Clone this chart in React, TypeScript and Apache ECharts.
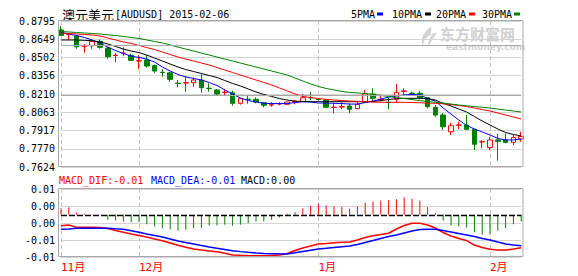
import React, { useEffect, useRef } from 'react';
import * as echarts from 'echarts';

const dates = [
  '2014-11-17','2014-11-18','2014-11-19','2014-11-20','2014-11-21','2014-11-24','2014-11-25','2014-11-26','2014-11-27','2014-11-28',
  '2014-12-01','2014-12-02','2014-12-03','2014-12-04','2014-12-05','2014-12-08','2014-12-09','2014-12-10','2014-12-11','2014-12-12',
  '2014-12-15','2014-12-16','2014-12-17','2014-12-18','2014-12-19','2014-12-22','2014-12-23','2014-12-24','2014-12-25','2014-12-26',
  '2014-12-29','2014-12-30','2014-12-31',
  '2015-01-01','2015-01-02','2015-01-05','2015-01-06','2015-01-07','2015-01-08','2015-01-09','2015-01-12','2015-01-13','2015-01-14',
  '2015-01-15','2015-01-16','2015-01-19','2015-01-20','2015-01-21','2015-01-22','2015-01-23','2015-01-26','2015-01-27','2015-01-28',
  '2015-01-29','2015-01-30',
  '2015-02-02','2015-02-03','2015-02-04','2015-02-05','2015-02-06',
];

const open = [
  0.8723,0.8688,0.8675,0.8590,0.8597,0.8632,0.8578,0.8518,0.8536,0.8520,
  0.8474,0.8482,0.8437,0.8384,0.8380,0.8296,0.8298,0.8300,0.8322,0.8256,
  0.8242,0.8222,0.8220,0.8135,0.8168,0.8167,0.8140,0.8121,0.8129,0.8127,
  0.8145,0.8148,0.8182,0.8168,0.8161,0.8101,0.8105,0.8113,0.8092,0.8143,
  0.8210,0.8165,0.8144,0.8167,0.8231,0.8216,0.8215,0.8180,0.8103,0.8041,
  0.7907,0.7959,0.7961,0.7926,0.7825,0.7780,0.7841,0.7841,0.7822,0.7849,
];
const close = [
  0.8680,0.8691,0.8589,0.8593,0.8632,0.8584,0.8509,0.8521,0.8538,0.8480,
  0.8477,0.8434,0.8394,0.8382,0.8327,0.8294,0.8300,0.8322,0.8260,0.8254,
  0.8210,0.8224,0.8135,0.8175,0.8165,0.8145,0.8119,0.8124,0.8132,0.8145,
  0.8148,0.8180,0.8179,0.8165,0.8103,0.8104,0.8108,0.8087,0.8127,0.8210,
  0.8175,0.8168,0.8141,0.8223,0.8234,0.8214,0.8180,0.8108,0.8041,0.7947,
  0.7955,0.7961,0.7926,0.7806,0.7827,0.7841,0.7830,0.7821,0.7861,0.7869,
];
const low = [
  0.8675,0.8640,0.8573,0.8541,0.8573,0.8573,0.8493,0.8464,0.8512,0.8474,
  0.8408,0.8420,0.8376,0.8348,0.8308,0.8263,0.8228,0.8268,0.8220,0.8228,
  0.8202,0.8202,0.8116,0.8124,0.8132,0.8135,0.8103,0.8108,0.8119,0.8121,
  0.8127,0.8147,0.8161,0.8157,0.8102,0.8055,0.8087,0.8055,0.8087,0.8137,
  0.8143,0.8148,0.8089,0.8140,0.8196,0.8194,0.8167,0.8095,0.8027,0.7921,
  0.7881,0.7926,0.7922,0.7760,0.7774,0.7760,0.7675,0.7814,0.7801,0.7827,
];
const high = [
  0.8755,0.8693,0.8683,0.8611,0.8635,0.8647,0.8586,0.8538,0.8584,0.8534,
  0.8522,0.8522,0.8446,0.8408,0.8388,0.8322,0.8354,0.8344,0.8368,0.8295,
  0.8250,0.8247,0.8236,0.8177,0.8196,0.8183,0.8145,0.8143,0.8145,0.8149,
  0.8161,0.8210,0.8226,0.8177,0.8169,0.8135,0.8143,0.8135,0.8145,0.8242,
  0.8255,0.8207,0.8183,0.8290,0.8255,0.8228,0.8236,0.8185,0.8121,0.8057,
  0.7979,0.7987,0.8041,0.7929,0.7841,0.7867,0.7889,0.7894,0.7881,0.7907,
];

const ma5 = [
  0.8703,0.8691,0.8679,0.8663,0.8643,0.8619,0.8586,0.8558,0.8534,0.8514,
  0.8502,0.8490,0.8466,0.8426,0.8394,0.8366,0.8346,0.8334,0.8322,0.8302,
  0.8278,0.8242,0.8210,0.8177,0.8157,0.8145,0.8135,0.8133,0.8133,0.8133,
  0.8141,0.8148,0.8145,0.8137,0.8137,0.8135,0.8133,0.8129,0.8129,0.8141,
  0.8153,0.8169,0.8185,0.8193,0.8202,0.8206,0.8202,0.8173,0.8153,0.8097,
  0.8049,0.8001,0.7957,0.7929,0.7905,0.7881,0.7853,0.7841,0.7841,0.7849,
];
const ma10 = [
  0.8643,0.8643,0.8643,0.8640,0.8637,0.8627,0.8611,0.8591,0.8570,0.8554,
  0.8542,0.8522,0.8498,0.8474,0.8450,0.8426,0.8406,0.8390,0.8374,0.8358,
  0.8342,0.8318,0.8294,0.8274,0.8250,0.8226,0.8206,0.8190,0.8173,0.8161,
  0.8153,0.8149,0.8148,0.8148,0.8148,0.8148,0.8148,0.8148,0.8148,0.8148,
  0.8149,0.8157,0.8165,0.8173,0.8175,0.8175,0.8175,0.8173,0.8161,0.8135,
  0.8113,0.8089,0.8065,0.8029,0.7993,0.7961,0.7929,0.7901,0.7885,0.7873,
];
const ma20 = [
  0.8699,0.8695,0.8691,0.8687,0.8683,0.8675,0.8659,0.8643,0.8627,0.8615,
  0.8599,0.8582,0.8566,0.8546,0.8526,0.8506,0.8490,0.8474,0.8458,0.8442,
  0.8422,0.8402,0.8382,0.8362,0.8342,0.8322,0.8302,0.8282,0.8258,0.8234,
  0.8210,0.8190,0.8181,0.8173,0.8167,0.8161,0.8157,0.8153,0.8151,0.8148,
  0.8145,0.8143,0.8143,0.8143,0.8143,0.8141,0.8139,0.8137,0.8135,0.8131,
  0.8125,0.8117,0.8109,0.8097,0.8085,0.8073,0.8057,0.8041,0.8025,0.8009,
];
const ma30 = [
  0.8711,0.8707,0.8703,0.8699,0.8695,0.8691,0.8684,0.8679,0.8671,0.8663,
  0.8655,0.8643,0.8631,0.8619,0.8603,0.8586,0.8570,0.8554,0.8538,0.8522,
  0.8506,0.8490,0.8474,0.8458,0.8442,0.8426,0.8410,0.8394,0.8378,0.8362,
  0.8338,0.8314,0.8290,0.8270,0.8254,0.8242,0.8230,0.8222,0.8218,0.8214,
  0.8206,0.8198,0.8190,0.8181,0.8173,0.8165,0.8157,0.8149,0.8143,0.8137,
  0.8129,0.8121,0.8115,0.8109,0.8103,0.8097,0.8089,0.8081,0.8073,0.8065,
];

const dif = [
  -0.00320,-0.00300,-0.00368,-0.00368,-0.00368,-0.00373,-0.00403,-0.00462,-0.00515,-0.00564,
  -0.00609,-0.00653,-0.00711,-0.00761,-0.00829,-0.00897,-0.00956,-0.01005,-0.01035,-0.01064,
  -0.01085,-0.01132,-0.01182,-0.01191,-0.01197,-0.01202,-0.01202,-0.01197,-0.01182,-0.01138,
  -0.01050,-0.00976,-0.00917,-0.00858,-0.00844,-0.00820,-0.00809,-0.00800,-0.00741,-0.00667,
  -0.00614,-0.00579,-0.00541,-0.00417,-0.00315,-0.00250,-0.00250,-0.00300,-0.00388,-0.00520,
  -0.00623,-0.00697,-0.00756,-0.00888,-0.00961,-0.01011,-0.01035,-0.01035,-0.01005,-0.00967,
];
const dea = [
  -0.00426,-0.00417,-0.00397,-0.00397,-0.00397,-0.00397,-0.00397,-0.00412,-0.00426,-0.00470,
  -0.00515,-0.00564,-0.00609,-0.00653,-0.00711,-0.00770,-0.00814,-0.00858,-0.00903,-0.00947,
  -0.00985,-0.01020,-0.01055,-0.01082,-0.01103,-0.01123,-0.01135,-0.01141,-0.01147,-0.01152,
  -0.01117,-0.01079,-0.01041,-0.01005,-0.00985,-0.00961,-0.00938,-0.00917,-0.00873,-0.00814,
  -0.00756,-0.00697,-0.00638,-0.00594,-0.00535,-0.00476,-0.00432,-0.00426,-0.00426,-0.00462,
  -0.00506,-0.00550,-0.00594,-0.00638,-0.00697,-0.00741,-0.00800,-0.00858,-0.00888,-0.00908,
];
const macd = [
  0.00196,0.00226,0.00069,0.00030,0.00020,0.00010,-0.00147,-0.00167,-0.00196,-0.00216,
  -0.00216,-0.00274,-0.00343,-0.00392,-0.00421,-0.00470,-0.00441,-0.00392,-0.00392,-0.00323,
  -0.00314,-0.00294,-0.00323,-0.00294,-0.00245,-0.00196,-0.00196,-0.00147,-0.00078,0.00030,
  0.00078,0.00196,0.00265,0.00323,0.00265,0.00245,0.00235,0.00176,0.00245,0.00353,
  0.00392,0.00412,0.00431,0.00461,0.00510,0.00470,0.00412,0.00226,0.00050,-0.00167,
  -0.00314,-0.00343,-0.00372,-0.00510,-0.00588,-0.00568,-0.00470,-0.00392,-0.00274,-0.00196,
];

const priceMin = 0.7624;
const priceMax = 0.87952;
const priceStep = 0.01464;
const strongPriceLines = [0.86488, 0.82096];
const macdMin = -0.0124;
const macdMax = 0.0076;
const macdStep = 0.005;

const maNames = ['5PMA', '10PMA', '20PMA', '30PMA'];
const maColors = ['#0000ff', '#000000', '#ff0000', '#008000'];
const maData = [ma5, ma10, ma20, ma30];

const monthStarts = dates
  .map((d, i) => (i === 0 || d.slice(5, 7) !== dates[i - 1].slice(5, 7) ? i : -1))
  .filter((i) => i >= 0);

const MONO = '"DejaVu Sans Mono", monospace';
const CJK = '"DejaVu Sans Mono", "Noto Sans CJK SC", sans-serif';
const RED = '#ff0000';
const GREEN = '#008000';

let logoRegistered = false;
function registerLogo() {
  if (logoRegistered) return;
  logoRegistered = true;
  echarts.graphic.registerShape(
    'emLogo',
    echarts.graphic.extendPath(
      'M13 0 C5 4 0 12 3 22 C4 15 8 10 15 8 C11 12 9 16 10 22 C13 15 17 11 20 6 C17 6 14 7 12 9 C13 6 14 3 13 0 Z',
      {}
    )
  );
}

export default function App() {
  const ref = useRef<HTMLDivElement>(null);
  useEffect(() => {
    registerLogo();
    const chart = echarts.init(ref.current!, null, { renderer: 'svg' });
    const splitX = {
      show: true,
      interval: (i: number) => monthStarts.includes(i),
      lineStyle: { color: '#c4c4c4', type: [4, 3], width: 1 },
    };
    const legendX = [351, 392, 436, 482];
    const legendRectX = [377, 425, 469, 514];
    const graphics: any[] = [
      { type: 'rect', silent: true, z: 10, shape: { x: 58.5, y: 20.5, width: 464.5, height: 146 }, style: { fill: 'none', stroke: '#a8a8a8', lineWidth: 1 } },
      { type: 'rect', silent: true, z: 10, shape: { x: 58.5, y: 188.5, width: 464.5, height: 68 }, style: { fill: 'none', stroke: '#a8a8a8', lineWidth: 1 } },
      { type: 'text', x: 62, y: 14, style: { text: '澳元美元', fontSize: 13, fontFamily: '"Noto Sans CJK SC"', fill: '#000', verticalAlign: 'middle', align: 'left' } },
      { type: 'text', x: 115, y: 14, style: { text: '[AUDUSD] 2015-02-06', fontSize: 10, fontFamily: MONO, fill: '#000', verticalAlign: 'middle', align: 'left' } },
      { type: 'text', x: 59, y: 180, style: { text: 'MACD_DIF:-0.01', fontSize: 10, fontFamily: MONO, fill: RED, verticalAlign: 'middle', align: 'left' } },
      { type: 'text', x: 151, y: 180, style: { text: 'MACD_DEA:-0.01', fontSize: 10, fontFamily: MONO, fill: '#0000ff', verticalAlign: 'middle', align: 'left' } },
      { type: 'text', x: 241, y: 180, style: { text: 'MACD:0.00', fontSize: 10, fontFamily: MONO, fill: '#000', verticalAlign: 'middle', align: 'left' } },
      { type: 'emLogo', x: 420, y: 27, scaleX: 0.85, scaleY: 0.9, z: 1, silent: true, style: { fill: '#d4d4d4' } },
      { type: 'text', x: 440, y: 33, z: 1, silent: true, style: { text: '东方财富网', fontSize: 15, fontWeight: 'bold', fontFamily: '"Noto Sans CJK SC"', fill: '#d0d0d0', verticalAlign: 'middle', align: 'left' } },
      { type: 'text', x: 446, y: 47, z: 1, silent: true, style: { text: 'eastmoney.com', fontSize: 9, fontWeight: 'bold', fontFamily: '"DejaVu Sans"', fill: '#d0d0d0', verticalAlign: 'middle', align: 'left' } },
    ];
    maNames.forEach((n, k) => {
      graphics.push({ type: 'text', x: legendX[k], y: 14, style: { text: n, fontSize: 10, fontFamily: MONO, fill: '#000', verticalAlign: 'middle', align: 'left' } });
      graphics.push({ type: 'rect', shape: { x: legendRectX[k], y: 12.5, width: 6, height: 3 }, style: { fill: maColors[k] } });
    });

    const option: any = {
      animation: false,
      backgroundColor: '#ffffff',
      grid: [
        { left: 61, width: 460.2, top: 21, height: 146 },
        { left: 61, width: 460.2, top: 189, height: 68 },
      ],
      xAxis: [
        {
          type: 'category', gridIndex: 0, data: dates, boundaryGap: false,
          axisLine: { show: false }, axisTick: { show: false }, axisLabel: { show: false },
          splitLine: splitX,
        },
        {
          type: 'category', gridIndex: 1, data: dates, boundaryGap: false,
          axisLine: { show: false }, axisTick: { show: false },
          axisLabel: {
            show: true,
            interval: (i: number) => monthStarts.includes(i),
            formatter: (v: string) => `${Number(v.slice(5, 7))}月`,
            color: RED, fontSize: 11, fontFamily: CJK, align: 'left', margin: 5,
          },
          splitLine: splitX,
        },
      ],
      yAxis: [
        {
          type: 'value', gridIndex: 0, min: priceMin, max: priceMax, interval: priceStep,
          axisLine: { show: false }, axisTick: { show: false },
          axisLabel: { formatter: (v: number) => v.toFixed(4), fontFamily: MONO, fontSize: 10, color: '#000', margin: 6, padding: [0, 0, 4, 0] },
          splitLine: { show: true, lineStyle: { color: '#d4d4d4', width: 1 } },
        },
        {
          type: 'value', gridIndex: 1, min: macdMin, max: macdMax, interval: macdStep,
          axisLine: { show: false }, axisTick: { show: false },
          axisLabel: {
            formatter: (v: number) => { const s = v.toFixed(2); return s === '-0.00' ? '0.00' : s; },
            fontFamily: MONO, fontSize: 10, color: '#000', margin: 6,
          },
          splitLine: { show: true, lineStyle: { color: '#d4d4d4', width: 1 } },
        },
      ],
      series: [
        {
          type: 'candlestick', name: 'AUDUSD', xAxisIndex: 0, yAxisIndex: 0, barWidth: 5, z: 2,
          data: dates.map((_, i) => [open[i], close[i], low[i], high[i]]),
          itemStyle: { color: '#ffffff', color0: GREEN, borderColor: RED, borderColor0: GREEN, borderWidth: 1 },
          markLine: {
            silent: true, symbol: 'none', label: { show: false },
            lineStyle: { color: '#a8a8a8', type: 'solid', width: 1 },
            data: strongPriceLines.map((v) => ({ yAxis: v })),
          },
        },
        ...maNames.map((n, k) => ({
          type: 'line', name: n, xAxisIndex: 0, yAxisIndex: 0, data: maData[k], z: 3,
          showSymbol: false, symbol: 'none', lineStyle: { color: maColors[k], width: 1 }, itemStyle: { color: maColors[k] },
        })),
        {
          type: 'bar', name: 'MACD', xAxisIndex: 1, yAxisIndex: 1, barWidth: 1, z: 2,
          data: macd.map((v) => ({ value: v, itemStyle: { color: v >= 0 ? RED : GREEN } })),
          markLine: {
            silent: true, symbol: 'none', label: { show: false },
            lineStyle: { color: '#000', type: [6, 2], width: 1.3 },
            data: [{ yAxis: 0 }],
          },
        },
        {
          type: 'line', name: 'DIF', xAxisIndex: 1, yAxisIndex: 1, data: dif, z: 3,
          showSymbol: false, symbol: 'none', lineStyle: { color: RED, width: 1.5 },
        },
        {
          type: 'line', name: 'DEA', xAxisIndex: 1, yAxisIndex: 1, data: dea, z: 3,
          showSymbol: false, symbol: 'none', lineStyle: { color: '#0000ff', width: 1.5 },
        },
      ],
      graphic: graphics,
    };
    chart.setOption(option);
    return () => chart.dispose();
  }, []);
  return <div ref={ref} style={{ position: 'absolute', left: 0, top: 0, width: 578, height: 276, background: '#fff' }} />;
}
